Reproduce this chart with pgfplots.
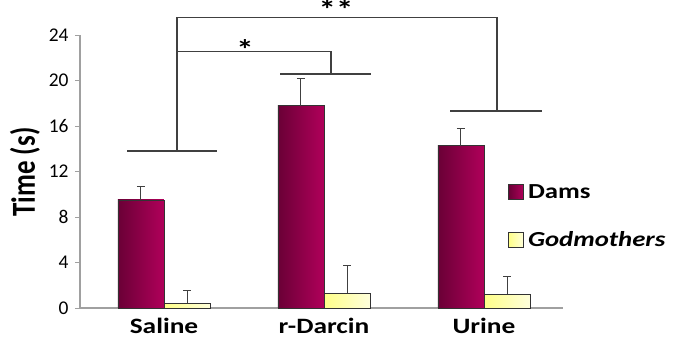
\documentclass[border=0pt]{standalone}
\usepackage{pgfplots}
\pgfplotsset{compat=1.18}
\usepackage{fontspec}
\setmainfont{Carlito}[FakeStretch=1.25]
\newfontfamily\plainfont{Carlito}
\definecolor{damsA}{HTML}{6A0036}
\definecolor{damsB}{HTML}{B0005A}
\definecolor{godA}{HTML}{FFFF88}
\definecolor{godB}{HTML}{FFFFDC}
\definecolor{axgray}{HTML}{A0A0A0}
\definecolor{brk}{HTML}{404040}
\pgfplotsset{
  barerr/.style={error bars/y dir=plus, error bars/y explicit,
    error bars/error bar style={line width=1pt, black!75},
    error bars/error mark options={rotate=90, mark size=4bp, line width=1pt, black!75}},
  damsbar/.style={ybar, bar width=0.2875, bar shift=0pt, draw=black!80, line width=0.8pt,
    left color=damsA, right color=damsB, barerr},
  godbar/.style={ybar, bar width=0.2875, bar shift=0pt, draw=black!80, line width=0.8pt,
    left color=godA, right color=godB, barerr},
  bracket/.style={sharp plot, no marks, brk, line width=1.1pt, forget plot},
}
\begin{document}
\begin{tikzpicture}
\path[use as bounding box] (-80bp,-35bp) rectangle (595bp,308bp);
\begin{axis}[
  at={(0,0)}, anchor=south west,
  scale only axis, width=483bp, height=273bp,
  xmin=-0.525, xmax=2.49375, ymin=0, ymax=24,
  clip=false,
  axis x line=bottom, axis y line=left,
  axis line style={axgray, line width=1.1pt, -},
  xtick={0,1,2}, xticklabels={Saline,r-Darcin,Urine},
  x tick style={draw=none},
  xticklabel style={font=\fontsize{22}{24}\selectfont\bfseries, yshift=-2bp},
  ytick={0,4,...,24},
  y tick style={axgray, line width=1pt},
  tick align=outside, major tick length=5bp,
  yticklabel style={font=\plainfont\fontsize{19.5}{21}\selectfont, xshift=-3bp},
  /pgf/number format/assume math mode=true,
  ylabel={\scalebox{1}[1.25]{\plainfont\fontsize{27}{30}\selectfont\bfseries Time (s)}},
  every axis y label/.style={at={([xshift=-55bp]axis cs:-0.525,11.96)}, rotate=90, anchor=center},
  legend style={draw=none, fill=none, inner sep=0pt,
    at={(axis cs:2.15,10.99)}, anchor=north west,
    row sep=30bp, column sep=3bp,
    font=\fontsize{21.5}{23}\selectfont, nodes={inner sep=1bp}},
  legend cell align=left,
  legend image code/.code={\draw[#1] (0bp,-7.5bp) rectangle (15bp,7.5bp);},
]
\addplot[damsbar] coordinates {(-0.144,9.50) +- (0,1.17)};
\addlegendentry{\bfseries Dams}
\addplot[godbar] coordinates {(0.144,0.41) +- (0,1.11)};
\addlegendentry{\bfseries\itshape Godmothers}
\addplot[damsbar, forget plot] coordinates {(0.856,17.78) +- (0,2.42)};
\addplot[godbar, forget plot] coordinates {(1.144,1.29) +- (0,2.43)};
\addplot[damsbar, forget plot] coordinates {(1.856,14.27) +- (0,1.53)};
\addplot[godbar, forget plot] coordinates {(2.144,1.20) +- (0,1.61)};
% significance brackets
\addplot[bracket] coordinates {(-0.231,13.8) (0.331,13.8)};
\addplot[bracket] coordinates {(0.081,13.8) (0.081,25.52) (2.081,25.52) (2.081,17.32)};
\addplot[bracket] coordinates {(1.788,17.32) (2.3625,17.32)};
\addplot[bracket] coordinates {(0.081,22.53) (1.044,22.53) (1.044,20.57)};
\addplot[bracket] coordinates {(0.725,20.57) (1.294,20.57)};
\node[font=\fontsize{28}{28}\selectfont\bfseries] at (axis cs:0.506,22.75) {*};
\node[font=\fontsize{28}{28}\selectfont\bfseries] at (axis cs:1.075,26.25) {**};
\end{axis}
\end{tikzpicture}
\end{document}
